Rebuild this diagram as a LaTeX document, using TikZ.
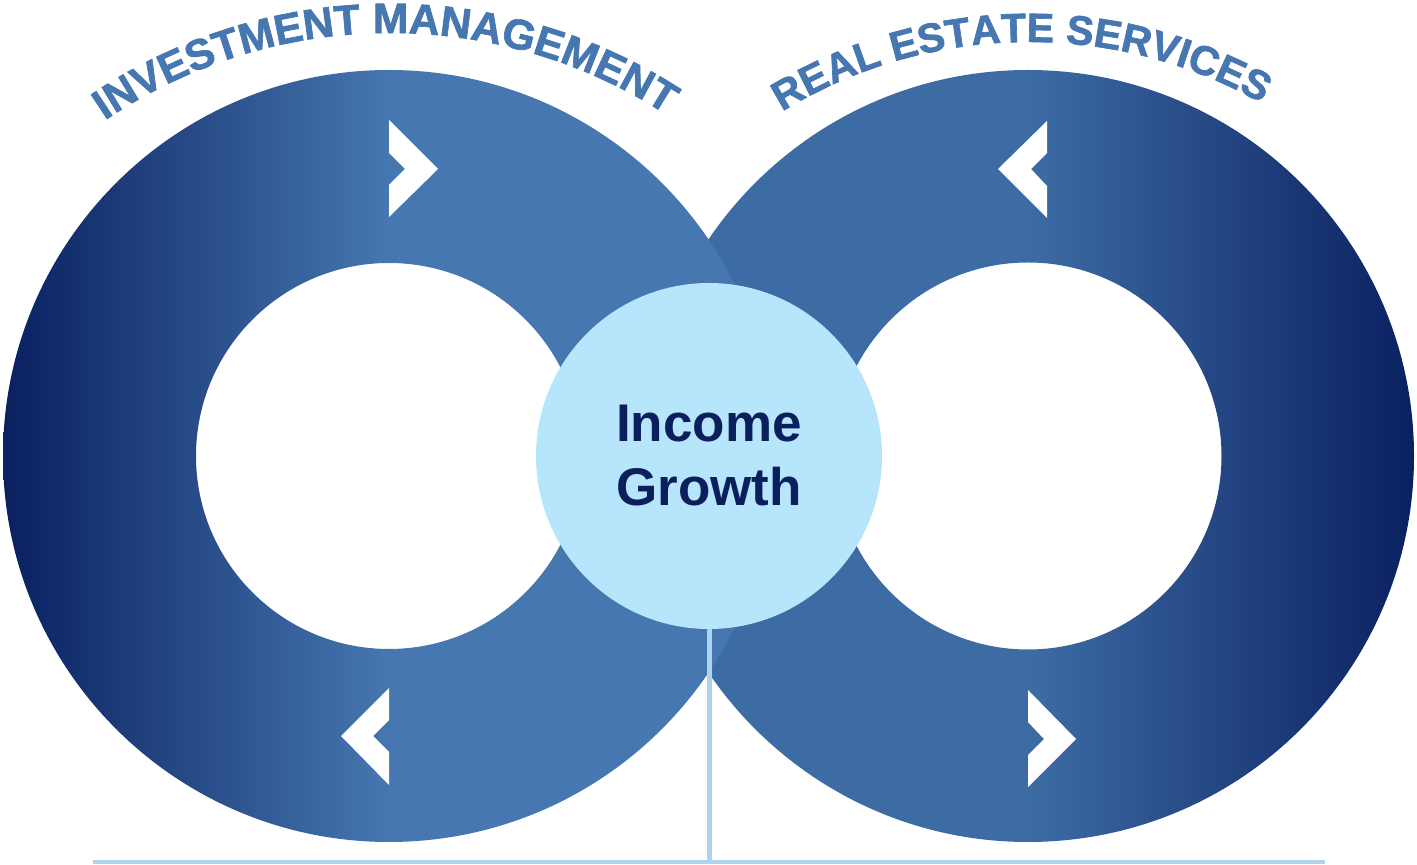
\documentclass[tikz,border=0pt]{standalone}
\usepackage{fontspec}
\setmainfont{Liberation Sans}
\newfontfamily\arcfont[UprightFont={* Bold}, FakeBold=1.6]{Liberation Sans}
\usetikzlibrary{decorations.text}

\definecolor{ringdark}{HTML}{0A2060}
\definecolor{ringlight}{HTML}{4677B0}
\definecolor{ringmid}{HTML}{3D6CA4}
\definecolor{corefill}{HTML}{B7E5FB}
\definecolor{navy}{HTML}{0B1F5C}
\definecolor{arcblue}{HTML}{4677B0}
\definecolor{stemblue}{HTML}{AED3EE}

% left ring: dark on the outer left, light from the centre rightwards
\pgfdeclarehorizontalshading{leftring}{100bp}{color(0bp)=(ringdark); color(25bp)=(ringdark); color(50bp)=(ringlight); color(100bp)=(ringlight)}
% right ring: mirrored, light on the left, dark on the outer right
\pgfdeclarehorizontalshading{rightring}{100bp}{color(0bp)=(ringmid); color(50bp)=(ringmid); color(75bp)=(ringdark); color(100bp)=(ringdark)}

\newcommand\arcstyle[1]{\arcfont\fontsize{#1}{#1}\selectfont\color{arcblue}}

\begin{document}
\begin{tikzpicture}[x=1pt,y=1pt,
  chevron/.style={fill=white},
  core/.style={circle, fill=corefill, minimum size=346pt, inner sep=0pt,
    font=\bfseries\fontsize{53}{64}\selectfont, text=navy, align=center},
  stemline/.style={draw=stemblue, line width=5pt},
  baseline/.style={draw=stemblue, line width=3.5pt},
  arclabel/.style 2 args={decorate, decoration={text along path, text align=center, text={|\arcstyle{#1}|#2}}}]
\useasboundingbox (0,0) rectangle (1417,865);

\coordinate (L) at (389,409);
\coordinate (R) at (1028,409);

% rings: outer circle plus inner circle run the other way, leaving a hole
\shade[shading=rightring] (R) ++(386,0) arc[start angle=0, end angle=360, radius=386pt]
  (R) ++(193.5,0) arc[start angle=0, end angle=-360, radius=193.5pt];
\shade[shading=leftring] (L) ++(386,0) arc[start angle=0, end angle=360, radius=386pt]
  (L) ++(193,0) arc[start angle=0, end angle=-360, radius=193pt];

% direction chevrons
\fill[chevron] (389,745) -- (438,696) -- (389,648) -- (389,680) -- (405,696) -- (389,712) -- cycle;
\fill[chevron] (389,177) -- (341,129) -- (389,80) -- (389,113) -- (373,129) -- (389,145) -- cycle;
\fill[chevron] (1047,744) -- (998,696) -- (1047,647) -- (1047,679) -- (1031,696) -- (1047,712) -- cycle;
\fill[chevron] (1028,175) -- (1076,126) -- (1028,78) -- (1028,110) -- (1044,126) -- (1028,143) -- cycle;

% curved titles
\path[arclabel={42.5}{INVESTMENT MANAGEMENT}] (390,324) ++(180.6:508pt) arc[start angle=180.6, end angle=0.6, radius=508pt];
\path[arclabel={41}{REAL ESTATE SERVICES}] (1029,351) ++(181:472pt) arc[start angle=181, end angle=1, radius=472pt];

% base line and stem
\coordinate (hl) at (93,3);
\coordinate (hr) at (1325,3);
\coordinate (foot) at (709,3);
\draw[baseline] (hl) -- (hr);

\node[core] (growth) at (709,409) {Income\\Growth};
\draw[stemline] (growth.south) -- (foot);
\end{tikzpicture}
\end{document}
